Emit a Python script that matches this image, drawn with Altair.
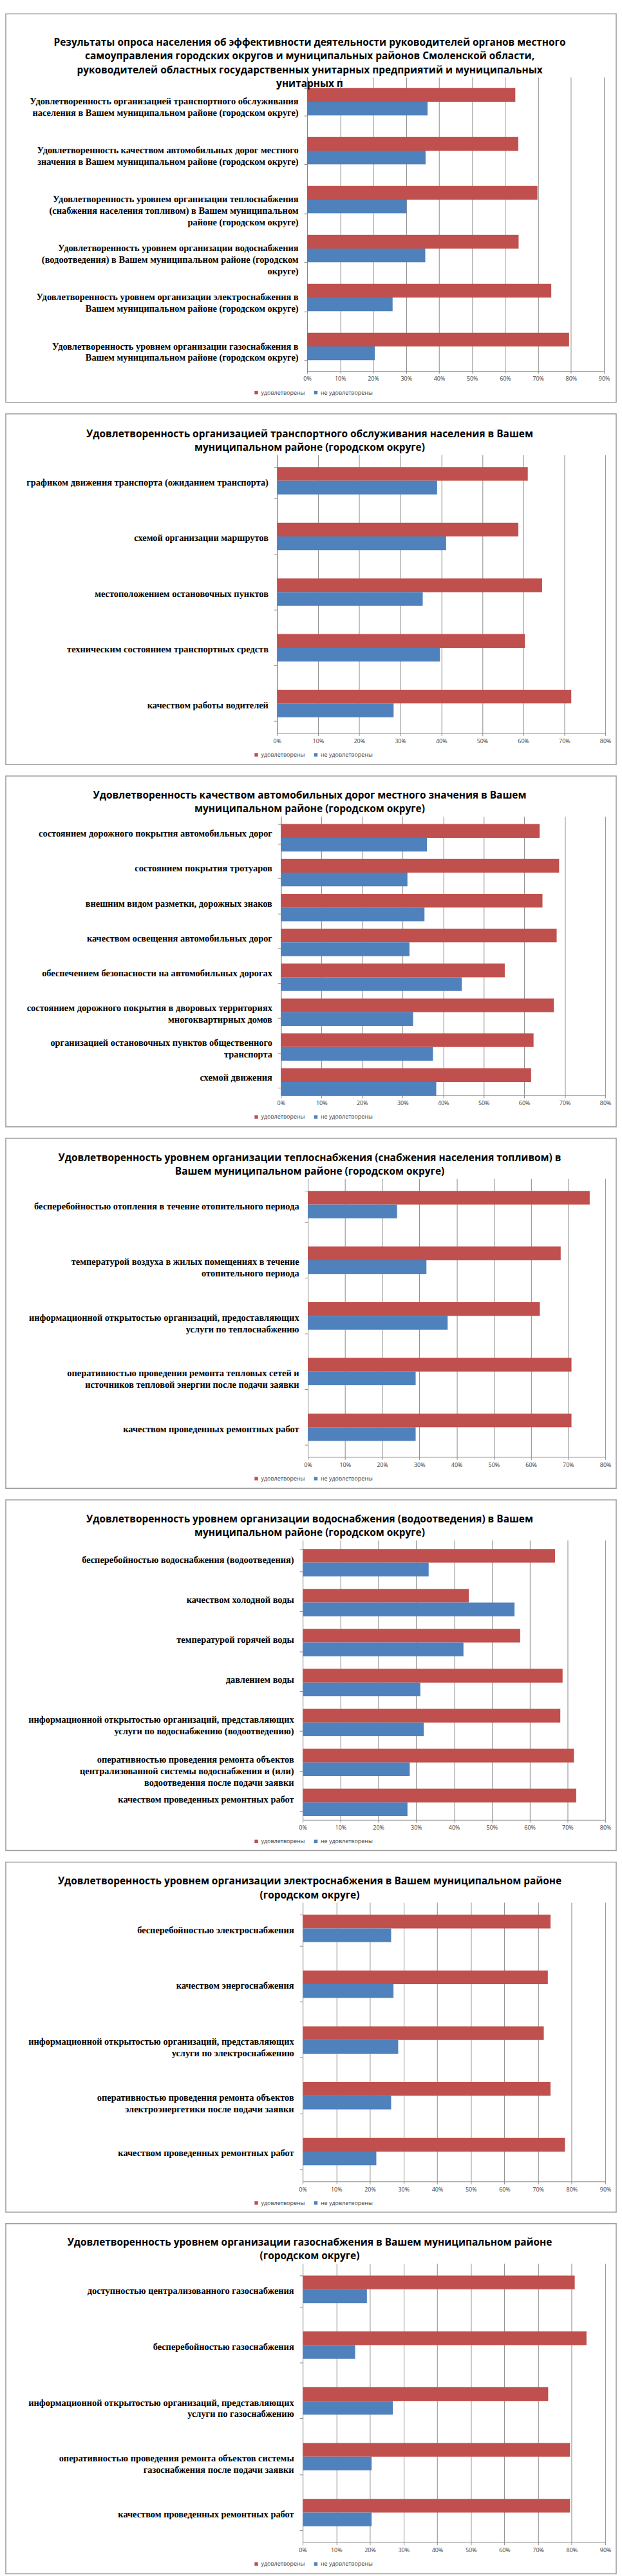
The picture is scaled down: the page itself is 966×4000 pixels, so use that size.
import altair as alt
import pandas as pd

SAT = "удовлетворены"
UNSAT = "не удовлетворены"
RED = "#C0504D"
BLUE = "#4F81BD"
GRID = "#8A8A8A"
BORDER = "#A0A0A0"

# ---------------- data ----------------
p1_title = [
    "Результаты опроса населения об эффективности деятельности руководителей органов местного",
    "самоуправления городских округов и муниципальных районов Смоленской области,",
    "руководителей областных государственных унитарных предприятий и муниципальных",
    "унитарных п",
]
p1_cats = [
    "Удовлетворенность организацией транспортного обслуживания\nнаселения в Вашем муниципальном районе (городском округе)",
    "Удовлетворенность качеством автомобильных дорог местного\nзначения в Вашем муниципальном районе (городском округе)",
    "Удовлетворенность уровнем организации теплоснабжения\n(снабжения населения топливом) в Вашем муниципальном\nрайоне (городском округе)",
    "Удовлетворенность уровнем организации водоснабжения\n(водоотведения) в Вашем муниципальном районе (городском\nокруге)",
    "Удовлетворенность уровнем организации электроснабжения в\nВашем муниципальном районе (городском округе)",
    "Удовлетворенность уровнем организации газоснабжения в\nВашем муниципальном районе (городском округе)",
]
p1_sat = [63.1, 64.0, 69.8, 64.1, 74.0, 79.4]
p1_unsat = [36.5, 35.9, 30.1, 35.8, 25.9, 20.5]

p2_title = [
    "Удовлетворенность организацией транспортного обслуживания населения в Вашем",
    "муниципальном районе (городском округе)",
]
p2_cats = [
    "графиком движения транспорта (ожиданием транспорта)",
    "схемой организации  маршрутов",
    "местоположением остановочных пунктов",
    "техническим состоянием транспортных средств",
    "качеством работы водителей",
]
p2_sat = [61.1, 58.8, 64.6, 60.4, 71.7]
p2_unsat = [39.0, 41.2, 35.5, 39.7, 28.4]

p3_title = [
    "Удовлетворенность качеством автомобильных дорог местного значения в Вашем",
    "муниципальном районе (городском округе)",
]
p3_cats = [
    "состоянием дорожного покрытия автомобильных дорог",
    "состоянием покрытия тротуаров",
    "внешним видом разметки, дорожных знаков",
    "качеством освещения автомобильных дорог",
    "обеспечением безопасности на автомобильных дорогах",
    "состоянием дорожного покрытия в дворовых территориях\nмногоквартирных домов",
    "организацией остановочных пунктов общественного\nтранспорта",
    "схемой движения",
]
p3_sat = [63.8, 68.6, 64.5, 68.0, 55.2, 67.3, 62.3, 61.7]
p3_unsat = [36.0, 31.2, 35.4, 31.7, 44.6, 32.6, 37.5, 38.3]

p4_title = [
    "Удовлетворенность уровнем организации теплоснабжения (снабжения населения топливом) в",
    "Вашем муниципальном районе (городском округе)",
]
p4_cats = [
    "бесперебойностью отопления в течение отопительного периода",
    "температурой воздуха в жилых помещениях в течение\nотопительного периода",
    "информационной открытостью организаций, предоставляющих\nуслуги по теплоснабжению",
    "оперативностью проведения ремонта тепловых сетей и\nисточников тепловой энергии после подачи заявки",
    "качеством проведенных ремонтных работ",
]
p4_sat = [75.8, 68.0, 62.4, 70.9, 70.9]
p4_unsat = [24.0, 31.9, 37.6, 29.0, 29.0]

p5_title = [
    "Удовлетворенность уровнем организации водоснабжения (водоотведения) в Вашем",
    "муниципальном районе (городском округе)",
]
p5_cats = [
    "бесперебойностью водоснабжения (водоотведения)",
    "качеством холодной воды",
    "температурой горячей воды",
    "давлением воды",
    "информационной открытостью организаций, представляющих\nуслуги по водоснабжению (водоотведению)",
    "оперативностью проведения ремонта объектов\nцентрализованной системы водоснабжения и (или)\nводоотведения после подачи заявки",
    "качеством проведенных ремонтных работ",
]
p5_sat = [66.7, 43.9, 57.5, 68.7, 68.1, 71.7, 72.3]
p5_unsat = [33.3, 56.0, 42.5, 31.1, 32.0, 28.3, 27.7]

p6_title = [
    "Удовлетворенность уровнем организации электроснабжения в Вашем муниципальном районе",
    "(городском округе)",
]
p6_cats = [
    "бесперебойностью электроснабжения",
    "качеством энергоснабжения",
    "информационной открытостью организаций, представляющих\nуслуги по электроснабжению",
    "оперативностью проведения ремонта объектов\nэлектроэнергетики после подачи заявки",
    "качеством проведенных ремонтных работ",
]
p6_sat = [73.7, 72.9, 71.7, 73.7, 78.0]
p6_unsat = [26.3, 27.0, 28.4, 26.3, 21.9]

p7_title = [
    "Удовлетворенность уровнем организации газоснабжения в Вашем муниципальном районе",
    "(городском округе)",
]
p7_cats = [
    "доступностью централизованного газоснабжения",
    "бесперебойностью газоснабжения",
    "информационной открытостью организаций, представляющих\nуслуги по газоснабжению",
    "оперативностью проведения ремонта объектов системы\nгазоснабжения после подачи заявки",
    "качеством проведенных ремонтных работ",
]
p7_sat = [80.9, 84.4, 73.0, 79.5, 79.5]
p7_unsat = [19.1, 15.6, 26.8, 20.5, 20.5]

# axis maxima (percent)
p_xmax = [90, 80, 80, 80, 80, 90, 90]

# ---------------- layout (pixels) ----------------
layout = [
    dict(x0=480, w=464, h=459, top=-99, bottom=508),
    dict(x0=433, w=513, h=435, top=-64, bottom=484),
    dict(x0=439, w=507, h=436, top=-63, bottom=485),
    dict(x0=481, w=465, h=435, top=-63, bottom=484),
    dict(x0=473, w=473, h=437, top=-63, bottom=485),
    dict(x0=473, w=473, h=436, top=-63, bottom=484),
    dict(x0=473, w=473, h=436, top=-62, bottom=485),
]
ORIGIN = 433          # common page x of every panel's group origin
PAGE_LEFT = 8
PANEL_RIGHT = 963
TITLE_CX = 484
LEGEND_X = 396

titles = [p1_title, p2_title, p3_title, p4_title, p5_title, p6_title, p7_title]
cats_all = [p1_cats, p2_cats, p3_cats, p4_cats, p5_cats, p6_cats, p7_cats]
sat_all = [p1_sat, p2_sat, p3_sat, p4_sat, p5_sat, p6_sat, p7_sat]
unsat_all = [p1_unsat, p2_unsat, p3_unsat, p4_unsat, p5_unsat, p6_unsat, p7_unsat]


def make_panel(title, cats, sat, unsat, xmax, L):
    n = len(cats)
    df = pd.DataFrame({
        "cat": cats + cats,
        "series": [SAT] * n + [UNSAT] * n,
        "value": sat + unsat,
    })
    ticks = list(range(0, xmax + 1, 10))
    x0, w, h = L["x0"], L["w"], L["h"]
    d = x0 - ORIGIN

    border = alt.Chart(pd.DataFrame({"k": [0]})).mark_rect(
        fill="white", fillOpacity=0, stroke=BORDER, strokeWidth=1.6
    ).encode(
        x=alt.value(PAGE_LEFT - ORIGIN + 1),
        x2=alt.value(PANEL_RIGHT - ORIGIN),
        y=alt.value(L["top"]),
        y2=alt.value(L["bottom"]),
    )

    nlines = len(title)
    title_cy = -22 - (nlines - 1) * 21.5 / 2
    title_mark = alt.Chart(pd.DataFrame({"k": [0]})).mark_text(
        text=title, font="Open Sans", fontWeight="bold", fontSize=15.5,
        lineHeight=21.5, align="center", baseline="middle", color="black",
    ).encode(
        x=alt.value(TITLE_CX - ORIGIN),
        y=alt.value(title_cy),
    )

    bars = alt.Chart(df).mark_bar(strokeWidth=0).encode(
        x=alt.X(
            "value:Q",
            scale=alt.Scale(domain=[0, xmax], nice=False, zero=True, range=[d, d + w]),
            axis=alt.Axis(
                values=ticks, labelExpr="datum.value + '%'", title=None,
                grid=True, gridColor=GRID, gridWidth=1,
                domainColor=GRID, tickColor=GRID, tickSize=4,
                labelFont="Open Sans", labelFontSize=9, labelColor="#404040",
                labelPadding=4, labelFlush=False,
            ),
        ),
        y=alt.Y(
            "cat:N", sort=cats,
            scale=alt.Scale(paddingInner=0.44, paddingOuter=0.22),
            axis=alt.Axis(
                title=None, labelExpr="split(datum.label, '\\n')",
                labelFont="Liberation Serif", labelFontWeight="bold",
                labelFontSize=14.5, labelLineHeight=18, labelColor="black",
                labelLimit=x0 - 23, labelAlign="right", labelBaseline="middle",
                tickBand="extent", tickSize=5, labelPadding=9,
                domainColor=GRID, tickColor=GRID, grid=False, offset=-d,
            ),
        ),
        yOffset=alt.YOffset(
            "series:N", sort=[SAT, UNSAT],
            scale=alt.Scale(paddingInner=0, paddingOuter=0),
        ),
        color=alt.Color(
            "series:N",
            scale=alt.Scale(domain=[SAT, UNSAT], range=[RED, BLUE]),
            legend=alt.Legend(
                orient="none", legendX=LEGEND_X - ORIGIN, legendY=h + 29,
                direction="horizontal", title=None, symbolType="square",
                symbolSize=30, symbolStrokeWidth=0, labelFont="Open Sans",
                labelFontSize=9, labelColor="#404040", columnPadding=12,
                labelOffset=3, padding=0, symbolOffset=0,
            ),
        ),
    )

    return alt.layer(border, bars, title_mark).properties(width=d + w, height=h)


panels = [
    make_panel(titles[i], cats_all[i], sat_all[i], unsat_all[i], p_xmax[i], layout[i])
    for i in range(7)
]

chart = alt.concat(
    *panels, columns=1, spacing=16, align="none", bounds="full"
).resolve_scale(
    color="independent", x="independent", y="independent"
).resolve_legend(
    color="independent"
).properties(
    padding=0, background="white"
).configure_view(stroke=None)

chart.save("out.html", embed_options={"renderer": "svg", "actions": False})
